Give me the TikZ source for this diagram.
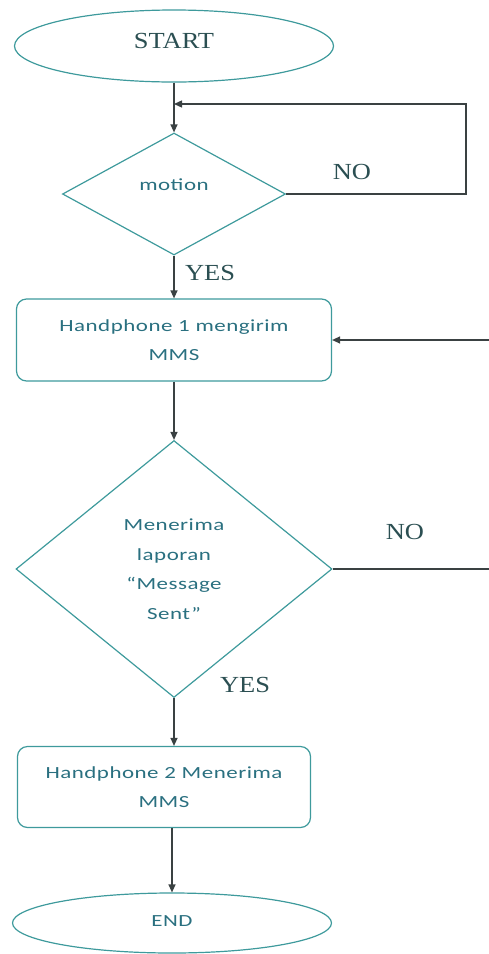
\documentclass[tikz,border=0pt]{standalone}
\usepackage{fontspec}
\usetikzlibrary{shapes.geometric,arrows.meta}
\newfontfamily\calib[FakeStretch=1.35,LetterSpace=3]{Carlito}
\newfontfamily\tms[FakeStretch=1.15]{Liberation Serif}
\definecolor{outl}{HTML}{3E9A9C}
\definecolor{txtc}{HTML}{2A7080}
\definecolor{serc}{HTML}{2B4F52}
\definecolor{arr}{HTML}{3A4142}
\tikzset{
  shp/.style={draw=outl, line width=1.2pt, inner sep=0pt, text=txtc, align=center,
    font=\calib\fontsize{17}{29.5}\selectfont},
  term/.style={shp, ellipse},
  dec/.style={shp, diamond},
  proc/.style={shp, rectangle, rounded corners=10pt},
  conn/.style={draw=arr, line width=1.3pt, -{Triangle[length=8pt,width=7pt]}},
  line/.style={draw=arr, line width=1.3pt},
  lbl/.style={text=serc, inner sep=0pt, font=\tms\fontsize{23}{26}\selectfont}
}
\begin{document}
\begin{tikzpicture}[x=1pt,y=-1pt]
\useasboundingbox (0,0) rectangle (489,954);
\node[term, minimum width=319pt, minimum height=72pt, text=serc,
  font=\tms\fontsize{23}{26}\selectfont] (start) at (174,46) {\raisebox{10pt}{START}};
\node[dec, minimum width=223pt, minimum height=122pt] (motion) at (174,194) {\raisebox{18pt}{motion}};
\node[proc, minimum width=315pt, minimum height=82pt] (box1) at (174,340) {Handphone 1 mengirim\\MMS};
\node[dec, minimum width=316pt, minimum height=257pt] (d2) at (174,569) {Menerima\\laporan\\“Message\\Sent”};
\node[proc, minimum width=293pt, minimum height=81pt] (box2) at (164,787) {Handphone 2 Menerima\\MMS};
\node[term, minimum width=319pt, minimum height=60pt] (end) at (172,923) {\raisebox{4pt}{END}};

\coordinate (loopR) at (466,104);
\coordinate (joinA) at (174,104);
\coordinate (edgeA) at (489,340);
\coordinate (edgeB) at (489,569);

\draw[conn] (start.south) -- (motion.north);
\draw[conn] (motion.east) -| (loopR) -- (joinA);
\draw[conn] (motion.south) -- (box1.north);
\draw[conn] (box1.south) -- (d2.north);
\draw[line] (d2.east) -- (edgeB);
\draw[conn] (edgeA) -- (box1.east);
\draw[conn] (d2.south) -- (d2.south |- box2.north);
\draw[conn] (box2.south -| end.north) -- (end.north);

\node[lbl] (no1) at (352,172) {NO};
\node[lbl] (yes1) at (210,273) {YES};
\node[lbl] (no2) at (405,532) {NO};
\node[lbl] (yes2) at (245,685) {YES};
\end{tikzpicture}
\end{document}
